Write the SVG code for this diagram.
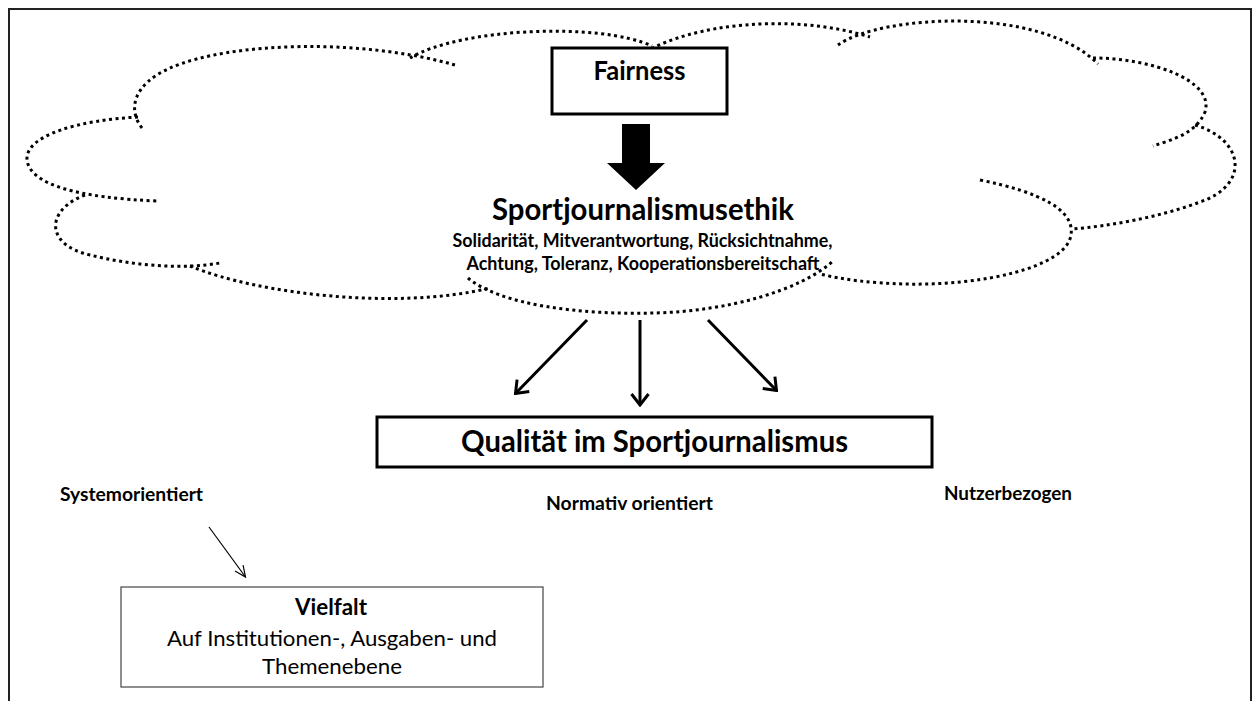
<svg xmlns="http://www.w3.org/2000/svg" width="1255" height="701" viewBox="0 0 1255 701">
  <style>
    .frame { fill: none; stroke: #222; stroke-width: 2; }
    .cloud path { fill: none; stroke: #000; stroke-width: 3; stroke-dasharray: 3 3.5; }
    .box { fill: #fff; stroke: #000; stroke-width: 3; }
    .thinbox { fill: #fff; stroke: #444; stroke-width: 1.2; }
    .t { font-family: Lato, "Open Sans", "Liberation Sans", sans-serif; fill: #000; text-anchor: middle; }
    .b { font-weight: bold; }
    .conn { fill: none; stroke: #000; }
    .thick { stroke-width: 3; marker-end: url(#head); }
    .thin { stroke-width: 1.2; marker-end: url(#headThin); }
  </style>
  <defs>
    <marker id="head" markerUnits="userSpaceOnUse" viewBox="-14 -11 16 22" refX="0" refY="0" markerWidth="16" markerHeight="22" orient="auto">
      <path d="M-11,-8.5 L0,0 L-11,8.5" fill="none" stroke="#000" stroke-width="3"/>
    </marker>
    <marker id="headThin" markerUnits="userSpaceOnUse" viewBox="-13 -7 15 14" refX="0" refY="0" markerWidth="15" markerHeight="14" orient="auto">
      <path d="M-11,-5 L0,0 L-11,5" fill="none" stroke="#000" stroke-width="1.2"/>
    </marker>
  </defs>

  <rect width="1255" height="701" fill="#fff"/>
  <path class="frame" d="M9,702 V9 H1251 V702"/>

  <!-- dotted cloud around the ethics node -->
  <g id="ethics">
    <g class="cloud">
      <path d="M142,128 C128,110 132,85 170,68 C230,42 360,38 455,65"/>
      <path d="M410,58 C460,28 600,22 652,46"/>
      <path d="M646,52 C690,25 790,12 870,37"/>
      <path d="M838,45 C880,15 1040,5 1098,64"/>
      <path d="M1093,58 C1150,58 1215,80 1205,112 C1195,135 1170,140 1153,146"/>
      <path d="M1195,125 C1245,140 1250,185 1200,202 C1160,217 1110,226 1072,229"/>
      <path d="M980,180 C1040,192 1075,210 1071,235 C1066,268 980,286 905,284 C870,283 845,280 820,274"/>
      <path d="M468,278 C500,305 580,315 655,313 C730,311 800,290 832,262"/>
      <path d="M190,266 C260,295 400,310 490,288"/>
      <path d="M85,195 C45,210 45,245 90,255 C130,265 180,270 220,263"/>
      <path d="M138,117 C80,120 25,135 27,160 C30,185 80,198 158,201"/>
    </g>
    <text class="t b" x="643" y="220" font-size="31" textLength="302" lengthAdjust="spacingAndGlyphs">Sportjournalismusethik</text>
    <text class="t b" x="642.5" y="247" font-size="18" textLength="380" lengthAdjust="spacingAndGlyphs">Solidarität, Mitverantwortung, Rücksichtnahme,</text>
    <text class="t b" x="643" y="270" font-size="18" textLength="353" lengthAdjust="spacingAndGlyphs">Achtung, Toleranz, Kooperationsbereitschaft</text>
  </g>

  <g id="fairness">
    <rect class="box" x="552" y="48" width="175" height="66"/>
    <text class="t b" x="639.5" y="80" font-size="26" textLength="92" lengthAdjust="spacingAndGlyphs">Fairness</text>
  </g>

  <g id="quality">
    <rect class="box" x="377" y="417" width="555" height="50"/>
    <text class="t b" x="654.5" y="452" font-size="30" textLength="387" lengthAdjust="spacingAndGlyphs">Qualität im Sportjournalismus</text>
  </g>

  <g id="label-system">
    <text class="t b" x="131.5" y="501" font-size="19" textLength="143" lengthAdjust="spacingAndGlyphs">Systemorientiert</text>
  </g>
  <g id="label-normative">
    <text class="t b" x="629.5" y="510" font-size="19" textLength="167" lengthAdjust="spacingAndGlyphs">Normativ orientiert</text>
  </g>
  <g id="label-user">
    <text class="t b" x="1008" y="500" font-size="19" textLength="128" lengthAdjust="spacingAndGlyphs">Nutzerbezogen</text>
  </g>

  <g id="vielfalt">
    <rect class="thinbox" x="121" y="587" width="422" height="100"/>
    <text class="t b" x="331" y="615" font-size="22" textLength="72" lengthAdjust="spacingAndGlyphs">Vielfalt</text>
    <text class="t" x="332" y="646" font-size="22" textLength="330" lengthAdjust="spacingAndGlyphs">Auf Institutionen-, Ausgaben- und</text>
    <text class="t" x="332" y="674" font-size="22" textLength="140" lengthAdjust="spacingAndGlyphs">Themenebene</text>
  </g>

  <g id="connectors">
    <polygon points="622,124 650,124 650,163 665,163 636,190 607,163 622,163" fill="#000"/>
    <line class="conn thick" x1="587" y1="320" x2="515.5" y2="393.5"/>
    <line class="conn thick" x1="640" y1="320" x2="640" y2="405"/>
    <line class="conn thick" x1="708" y1="320" x2="776.5" y2="390.5"/>
    <line class="conn thin" x1="209" y1="527" x2="245.5" y2="577"/>
  </g>
</svg>
